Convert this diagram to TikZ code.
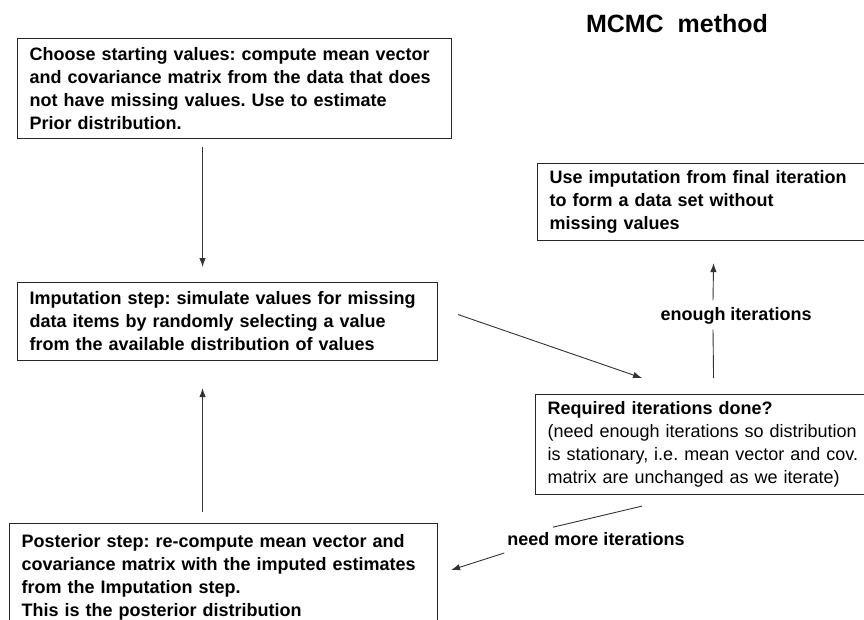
\documentclass[tikz,border=0pt]{standalone}
\usepackage{fontspec}
\setmainfont{Liberation Sans}
\usetikzlibrary{arrows.meta, positioning}
\frenchspacing

\begin{document}
\begin{tikzpicture}[x=1pt,y=-1pt,
    stepbox/.style={draw=black!85, line width=1.1pt, anchor=north west, align=left,
      inner xsep=12pt, inner ysep=0pt, font=\fontsize{18}{23}\selectfont\bfseries},
    lbl/.style={inner sep=0pt, font=\fontsize{18}{23}\selectfont\bfseries},
    line/.style={draw=black!80, line width=0.9pt},
    arr/.style={line, -{Latex[length=9pt,width=6.5pt]}}]
\useasboundingbox (0,0) rectangle (864,619);
\clip (0,0) rectangle (864,619);

\node[lbl, font=\fontsize{25}{30}\selectfont\bfseries] (title) at (677,24) {MCMC~~method};

\node[stepbox, text width=410pt, minimum height=100pt] (start) at (17,38)
  {Choose starting values: compute mean vector\\ and covariance matrix from the data that does\\ not have missing values. Use to estimate\\ Prior distribution.};
\node[stepbox, text width=396pt, minimum height=78pt] (imput) at (17,282)
  {Imputation step: simulate values for missing\\ data items by randomly selecting a value\\ from the available distribution of values};
\node[stepbox, text width=316pt, minimum height=77pt] (use) at (537,163)
  {Use imputation from final iteration\\ to form a data set without\\ missing values};
\node[stepbox, text width=330pt, minimum height=100pt, font=\fontsize{18}{23}\selectfont] (req) at (535,394)
  {\textbf{Required iterations done?}\\ (need enough iterations so distribution\\ is stationary, i.e. mean vector and cov.\\ matrix are unchanged as we iterate)};
\node[stepbox, text width=404pt, minimum height=108pt] (post) at (9,523)
  {Posterior step: re-compute mean vector and\\ covariance matrix with the imputed estimates\\ from the Imputation step.\\ This is the posterior distribution};

\node[lbl] (enough) at (736,316) {enough iterations};
\node[lbl] (more) at (596,539) {need more iterations};

% connectors
\draw[arr] ([xshift=-32pt,yshift=-8pt]start.south) -- ([xshift=-25pt,yshift=15pt]imput.north);
\draw[arr] ([xshift=20pt,yshift=7pt]imput.east) -- ([xshift=107pt,yshift=16pt]req.north west);
\draw[line] ([xshift=1pt,yshift=16pt]req.north) -- ([xshift=-23pt,yshift=-5pt]enough.south);
\draw[arr] ([xshift=-23pt,yshift=7pt]enough.north) -- ([xshift=6pt,yshift=-22pt]use.south);
\draw[line] ([xshift=107pt,yshift=-11pt]req.south west) -- ([xshift=-43pt,yshift=5pt]more.north);
\draw[arr] ([xshift=-3pt,yshift=-14pt]more.west) -- ([xshift=13pt,yshift=-47pt]post.north east);
\draw[arr] ([xshift=-21pt,yshift=11pt]post.north) -- ([xshift=-25pt,yshift=-27pt]imput.south);
\end{tikzpicture}
\end{document}
